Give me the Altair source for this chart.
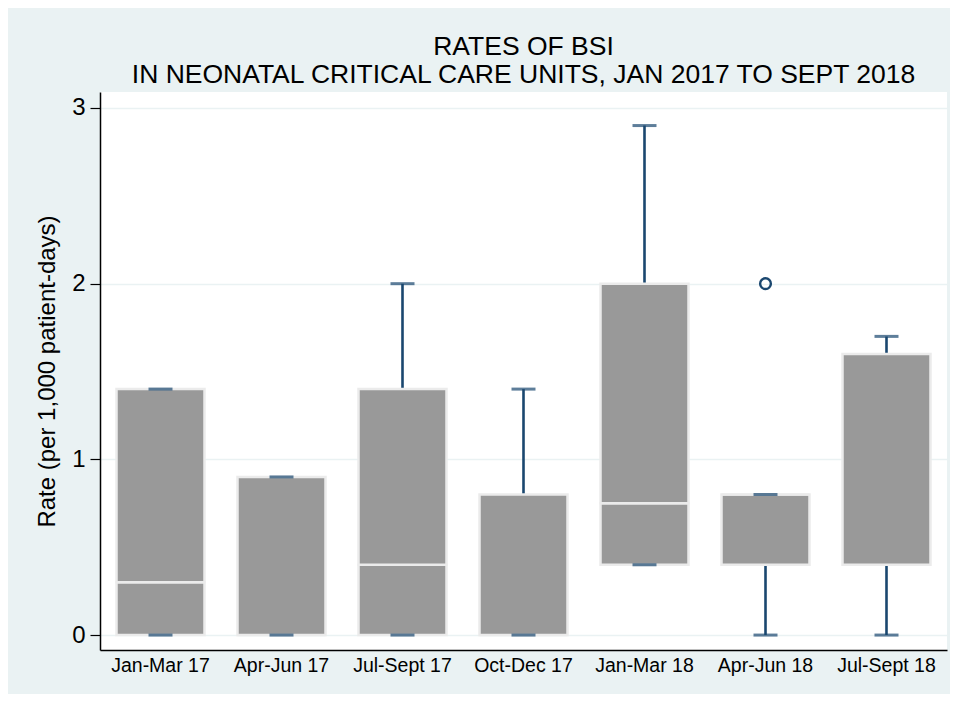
import altair as alt
import pandas as pd

categories = ["Jan-Mar 17", "Apr-Jun 17", "Jul-Sept 17", "Oct-Dec 17",
              "Jan-Mar 18", "Apr-Jun 18", "Jul-Sept 18"]
lower = [0.0, 0.0, 0.0, 0.0, 0.4, 0.0, 0.0]
q1 = [0.0, 0.0, 0.0, 0.0, 0.4, 0.4, 0.4]
median = [0.3, 0.0, 0.4, 0.0, 0.75, 0.8, 0.4]
q3 = [1.4, 0.9, 1.4, 0.8, 2.0, 0.8, 1.6]
upper = [1.4, 0.9, 2.0, 1.4, 2.9, 0.8, 1.7]
outlier_cat = ["Apr-Jun 18"]
outlier_val = [2.0]

df = pd.DataFrame({"cat": categories, "lower": lower, "q1": q1,
                   "median": median, "q3": q3, "upper": upper})
dfo = pd.DataFrame({"cat": outlier_cat, "val": outlier_val})

NAVY = "#1A476F"
FONT = "Liberation Sans"

xenc = alt.X("cat:N", sort=categories,
             scale=alt.Scale(paddingInner=0, paddingOuter=0),
             axis=alt.Axis(title=None, labelAngle=0, ticks=False, grid=False,
                           domainColor="black", domainWidth=1.5,
                           labelFontSize=19.5, labelColor="black", labelPadding=6,
                           labelFont=FONT))
yscale = alt.Scale(domain=[-0.085, 3.091], nice=False, zero=False)
yaxis = alt.Axis(title="Rate (per 1,000 patient-days)", values=[0, 1, 2, 3],
                 format="d",
                 grid=True, gridColor="#EAF2F3", gridWidth=1.5,
                 tickSize=10, tickColor="black", tickWidth=1.2,
                 domainColor="black", domainWidth=1.5,
                 labelFontSize=24, labelColor="black", labelPadding=5,
                 labelFont=FONT, titleFont=FONT, titleFontSize=24,
                 titleFontWeight="normal", titleColor="black", titlePadding=12)

base = alt.Chart(df)

whisk = base.mark_rule(color=NAVY, strokeWidth=2.6).encode(
    x=xenc,
    y=alt.Y("lower:Q", scale=yscale, axis=yaxis),
    y2="upper:Q")

box_lo = base.mark_bar(size=88, color="#999999", stroke="#EBEBEB",
                       strokeWidth=2.5).encode(x=xenc, y="q1:Q", y2="median:Q")
box_hi = base.mark_bar(size=88, color="#999999", stroke="#EBEBEB",
                       strokeWidth=2.5).encode(x=xenc, y="median:Q", y2="q3:Q")

cap_lo = base.mark_tick(color=NAVY, size=24, thickness=3, orient="horizontal").encode(
    x=xenc, y="lower:Q")
cap_hi = base.mark_tick(color=NAVY, size=24, thickness=3, orient="horizontal").encode(
    x=xenc, y="upper:Q")

outl = alt.Chart(dfo).mark_point(shape="circle", filled=False, color=NAVY,
                                  size=115, strokeWidth=2.4, opacity=1).encode(
    x=alt.X("cat:N", sort=categories), y="val:Q")

chart = alt.layer(whisk, box_lo, box_hi, cap_lo, cap_hi, outl).properties(
    width=847, height=558,
    title=alt.TitleParams(
        text=["RATES OF BSI",
              "IN NEONATAL CRITICAL CARE UNITS, JAN 2017 TO SEPT 2018"],
        fontSize=26.5, fontWeight="normal", font=FONT, color="black",
        lineHeight=28, anchor="middle", offset=4),
    background="#EAF2F3",
    autosize=alt.AutoSizeParams(type="none"),
    padding={"left": 92, "top": 84, "right": 3, "bottom": 44},
).configure_view(fill="white", stroke=None)

chart.save("out.html", embed_options={"renderer": "svg", "actions": False})
